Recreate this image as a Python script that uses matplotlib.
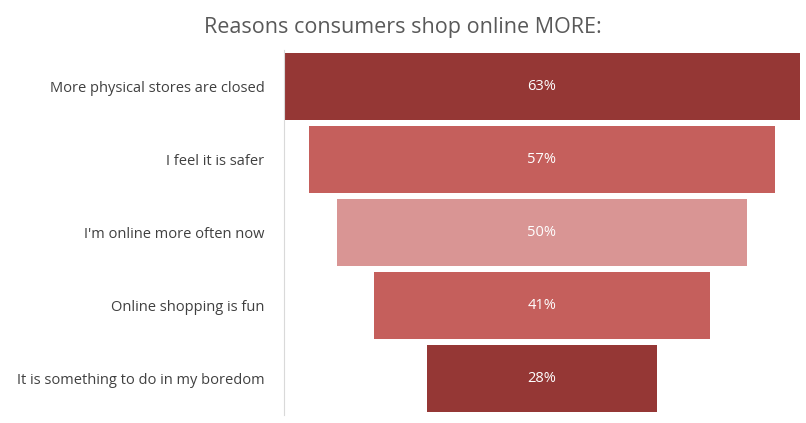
import matplotlib
matplotlib.use("Agg")
import matplotlib.pyplot as plt

categories = ["More physical stores are closed", "I feel it is safer",
              "I'm online more often now", "Online shopping is fun",
              "It is something to do in my boredom"]
values = [63, 57, 50, 41, 28]
colors = ["#953735", "#C55F5C", "#D99594", "#C55F5C", "#953735"]

plt.rcParams['font.family'] = ['Open Sans', 'DejaVu Sans']
fig = plt.figure(figsize=(8.06, 4.23), dpi=100)
ax = fig.add_axes([284/806, 1-415/423, 516/806, 365/423])
y = range(len(values))
ax.barh(y, values, left=[-v/2 for v in values], height=0.92, color=colors)
for i, v in enumerate(values):
    ax.text(0, i, f"{v}%", ha="center", va="center", color="white", fontsize=10.5)
ax.set_xlim(-31.5, 31.5)
ax.set_ylim(4.5, -0.5)
ax.set_yticks(list(y))
ax.set_yticklabels(categories, fontsize=10.5, color="#404040")
ax.tick_params(axis="y", length=0, pad=14)
ax.set_xticks([])
for s in ["top", "right", "bottom"]:
    ax.spines[s].set_visible(False)
ax.spines["left"].set_color("#D9D9D9")
fig.text(0.5, 1-27/423, "Reasons consumers shop online MORE:", ha="center", va="center",
         fontsize=15.5, color="#595959")
fig.savefig("out.png")
